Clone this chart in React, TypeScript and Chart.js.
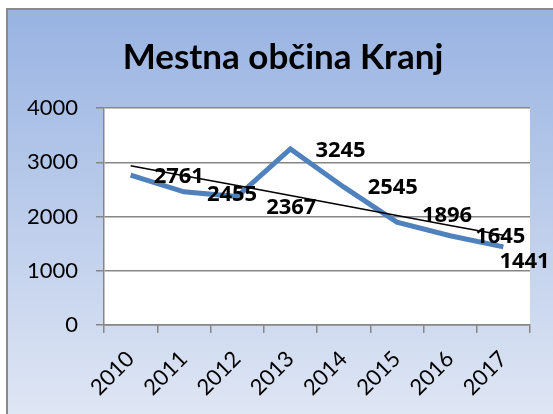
import React, { useEffect, useRef } from 'react';
import { Chart, registerables } from 'chart.js';

Chart.register(...registerables);

const TITLE = 'Mestna občina Kranj';
const years = ['2010', '2011', '2012', '2013', '2014', '2015', '2016', '2017'];
const values = [2761, 2455, 2367, 3245, 2545, 1896, 1645, 1441];
const yTickValues = [0, 1000, 2000, 3000, 4000];

// data-label placement relative to each point (style only)
const LABEL_DX = [23, 23, 29, 25, 24, 25, 25, -4];
const LABEL_DY = [2, 3, 11, 2, 1, -6, 1, 15];

const FONT = 'Lato, "Liberation Sans", sans-serif';
const LABEL_FONT = '"Open Sans", Lato, sans-serif';

function linearTrend(ys: number[]): number[] {
  const n = ys.length;
  const mx = (n - 1) / 2;
  const my = ys.reduce((a, b) => a + b, 0) / n;
  let sxy = 0;
  let sxx = 0;
  ys.forEach((y, i) => {
    sxy += (i - mx) * (y - my);
    sxx += (i - mx) * (i - mx);
  });
  const slope = sxy / sxx;
  return ys.map((_, i) => my + slope * (i - mx));
}

const framePlugin = {
  id: 'frame',
  beforeDraw(chart: any) {
    const { ctx, width, height, chartArea } = chart;
    ctx.save();
    const g = ctx.createLinearGradient(0, 9, 0, height);
    g.addColorStop(0, '#98b3e2');
    g.addColorStop(1, '#dfe6f4');
    ctx.fillStyle = g;
    ctx.fillRect(7, 9, width - 7, height - 9);
    ctx.strokeStyle = '#8a8a8a';
    ctx.lineWidth = 2;
    ctx.beginPath();
    ctx.moveTo(7, height);
    ctx.lineTo(7, 9);
    ctx.lineTo(width, 9);
    ctx.stroke();
    ctx.fillStyle = '#ffffff';
    ctx.fillRect(chartArea.left, chartArea.top, chartArea.right - chartArea.left, chartArea.bottom - chartArea.top);
    ctx.fillStyle = '#000000';
    ctx.font = `bold 35px ${FONT}`;
    ctx.textAlign = 'center';
    ctx.textBaseline = 'alphabetic';
    ctx.fillText(TITLE, 283, 69);
    ctx.restore();
  },
};

const labelPlugin = {
  id: 'dataLabels',
  afterDatasetsDraw(chart: any) {
    const { ctx } = chart;
    const meta = chart.getDatasetMeta(0);
    ctx.save();
    ctx.font = `bold 22px ${LABEL_FONT}`;
    ctx.fillStyle = '#000000';
    ctx.textAlign = 'left';
    ctx.textBaseline = 'middle';
    meta.data.forEach((pt: any, i: number) => {
      ctx.fillText(String(values[i]), pt.x + LABEL_DX[i], pt.y + LABEL_DY[i]);
    });
    ctx.restore();
  },
};

export default function App() {
  const ref = useRef<HTMLCanvasElement | null>(null);
  useEffect(() => {
    if (!ref.current) return;
    const chart = new Chart(ref.current, {
      type: 'line',
      data: {
        labels: years,
        datasets: [
          {
            label: 'Mestna občina Kranj',
            data: values,
            borderColor: '#4f81bd',
            borderWidth: 5,
            pointRadius: 0,
            tension: 0,
            order: 1,
          },
          {
            label: 'Linear',
            data: linearTrend(values),
            borderColor: '#000000',
            borderWidth: 1.5,
            pointRadius: 0,
            tension: 0,
            order: 0,
          },
        ],
      },
      options: {
        animation: false,
        responsive: false,
        maintainAspectRatio: false,
        layout: { padding: { left: 0, right: 23, top: 108, bottom: 0 } },
        plugins: {
          legend: { display: false },
          title: { display: false },
          tooltip: { enabled: false },
        },
        scales: {
          x: {
            type: 'category',
            offset: true,
            grid: {
              display: true,
              offset: true,
              drawOnChartArea: false,
              drawTicks: true,
              tickLength: 8,
              color: '#868686',
              lineWidth: 1.5,
            },
            border: { display: true, color: '#868686', width: 1.5 },
            ticks: {
              minRotation: 45,
              maxRotation: 45,
              autoSkip: false,
              padding: 13,
              color: '#000000',
              font: { family: FONT, size: 22 },
            },
            afterFit(scale: any) {
              scale.height = 89;
            },
          },
          y: {
            min: 0,
            max: 4000,
            afterBuildTicks(scale: any) {
              scale.ticks = yTickValues.map((v) => ({ value: v }));
            },
            grid: {
              color: '#868686',
              lineWidth: 1.5,
              tickLength: 8,
            },
            border: { display: true, color: '#868686', width: 1.5 },
            ticks: {
              padding: 18,
              color: '#000000',
              font: { family: FONT, size: 22 },
              callback: (v: any) => String(v),
            },
            afterFit(scale: any) {
              scale.width = 104;
            },
          },
        },
      },
      plugins: [framePlugin, labelPlugin],
    });
    return () => chart.destroy();
  }, []);
  return (
    <div style={{ position: 'fixed', left: 0, top: 0, width: 553, height: 414 }}>
      <canvas ref={ref} width={553} height={414} style={{ display: 'block', width: 553, height: 414 }} />
    </div>
  );
}
